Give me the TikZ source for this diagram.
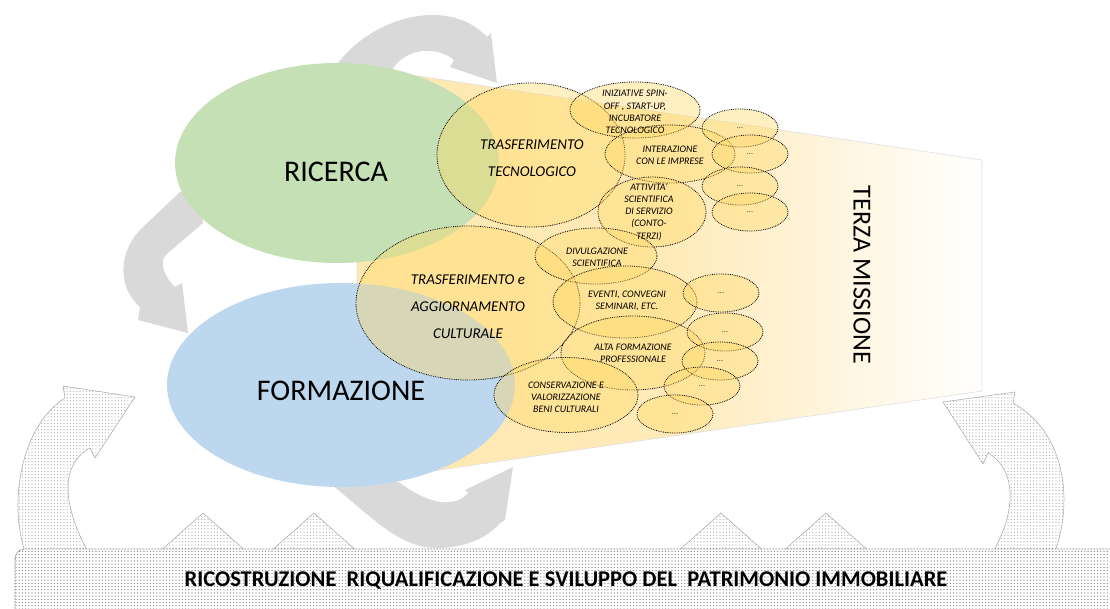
\documentclass[tikz,border=0pt]{standalone}
\usepackage{fontspec}
\setmainfont{Carlito}
\usetikzlibrary{shapes.geometric,patterns}
\definecolor{arrowgray}{HTML}{D9D9D9}
\definecolor{ricgreen}{HTML}{C5E0B4}
\definecolor{forblue}{HTML}{BDD7EE}
\definecolor{bubbleyellow}{HTML}{FFD966}
\definecolor{fadeyellow}{HTML}{FFE8B0}
% a coarser dot grid for the building blocks
\pgfdeclarepatternformonly{blockdots}{\pgfqpoint{-1pt}{-1pt}}{\pgfqpoint{1pt}{1pt}}{\pgfqpoint{3.2pt}{3.2pt}}%
   {\pgfpathcircle{\pgfqpoint{0pt}{0pt}}{0.65pt}\pgfusepath{fill}}
\tikzset{% styles for the two areas, the bubbles and their labels
   mainarea/.style={ellipse, inner sep=0pt},
   bubble/.style={ellipse, inner sep=0pt, draw=black, densely dotted, line width=0.8pt,
                  fill=bubbleyellow, fill opacity=0.4},
   dotbubble/.style={bubble, minimum width=76pt, minimum height=38pt},
   bigword/.style={inner sep=0pt, font=\fontsize{30}{36}\selectfont},
   biglabel/.style={inner sep=0pt, align=center, text=black, font=\fontsize{15}{27}\selectfont\itshape},
   smalllabel/.style={inner sep=0pt, align=center, text=black, font=\fontsize{10}{12.2}\selectfont\itshape},
   dotlabel/.style={inner sep=0pt, text=black!80, font=\fontsize{8}{9}\selectfont},
   % and the dotted grey fill of the building blocks
   dotfill/.style={preaction={fill=white}, pattern=blockdots, pattern color=black!30,
                   draw=gray!70, line width=0.5pt}
}

\begin{document}
\begin{tikzpicture}[x=1pt, y=-1pt]
   \useasboundingbox (0,0) rectangle (1110,609);
   % grey cycle arrows behind the two areas
   \fill[arrowgray] (360,110) -- (338,63) .. controls (375,15) and (450,-3) .. (487,37)
        -- (491,33) -- (497,83) -- (450,67) -- (454,60)
        .. controls (440,48) and (410,45) .. (393,68) -- cycle;
   \fill[arrowgray] (200,190) -- (180,192) -- (143,227) .. controls (120,248) and (115,285) .. (140,307)
        -- (138,320) -- (188,333) -- (182,283) -- (175,287)
        .. controls (160,272) and (160,258) .. (168,253) -- (203,223) -- cycle;
   \fill[arrowgray] (350,460) -- (332,485) .. controls (370,515) and (400,550) .. (440,548)
        .. controls (470,547) and (490,535) .. (500,523) -- (505,520) -- (513,467)
        -- (465,490) -- (468,493) .. controls (455,508) and (430,505) .. (400,483) -- cycle;
   % third mission band
   \shade[left color=fadeyellow, right color=white, middle color=fadeyellow!88!white,
          draw=gray!25, line width=0.6pt]
        (357,67) -- (982,160) -- (982,391) -- (357,482) -- cycle;
   \node[font=\fontsize{26}{30}\selectfont, rotate=-90] (terza) at (862,275) {TERZA MISSIONE};
   % research and education
   \node[mainarea, fill=ricgreen, minimum width=324pt, minimum height=200pt] (ricerca) at (337,163) {};
   \node[mainarea, fill=forblue, minimum width=348pt, minimum height=204pt] (formazione) at (341,385) {};
   \node[bigword] (ricercatxt) at (336,172) {RICERCA};
   \node[bigword] (formtxt) at (341,391) {FORMAZIONE};
   % building blocks and side arrows
   \foreach \px in {203,314,721,826} {
      \path[dotfill] (\px-45,553) -- (\px,513) -- (\px+45,553) -- cycle;
   }
   \path[dotfill] (25,552) .. controls (8,500) and (22,425) .. (65,398) -- (63,386) -- (135,397)
        -- (95,458) -- (90,448) .. controls (68,460) and (55,490) .. (88,552) -- cycle;
   \path[dotfill] (1055,552) .. controls (1075,495) and (1062,430) .. (1013,403) -- (1015,392) -- (943,402)
        -- (983,464) -- (988,453) .. controls (1010,465) and (1022,500) .. (993,552) -- cycle;
   \path[dotfill, pattern color=black!50, draw=black!80, densely dotted, line width=0.8pt,
         rounded corners=10pt] (15,549) rectangle (1140,640);
   \node[font=\fontsize{22.5}{26}\selectfont\bfseries] (bartxt) at (566,581)
        {RICOSTRUZIONE\ \ RIQUALIFICAZIONE E SVILUPPO DEL\ \ PATRIMONIO IMMOBILIARE};
   % bubbles of the third mission
   \node[bubble, minimum width=188pt, minimum height=144pt] (tt) at (531,155) {};
   \node[bubble, minimum width=130pt, minimum height=56pt] (spinoff) at (635,110) {};
   \node[bubble, minimum width=130pt, minimum height=58pt] (imprese) at (670,154) {};
   \node[bubble, minimum width=108pt, minimum height=70pt] (servizio) at (652,212) {};
   \node[bubble, minimum width=224pt, minimum height=154pt] (tac) at (468,303) {};
   \node[bubble, minimum width=122pt, minimum height=56pt] (divulg) at (596,256) {};
   \node[bubble, minimum width=144pt, minimum height=72pt] (eventi) at (625,302) {};
   \node[bubble, minimum width=144pt, minimum height=74pt] (altaform) at (633,353) {};
   \node[bubble, minimum width=144pt, minimum height=75pt] (beni) at (566,395) {};
   \foreach \bx/\by [count=\i] in {740/128, 750/154, 740/186, 750/212, 721/293,
                                   725/332, 720/361, 702/386, 675/414} {
      \node[dotbubble] (more\i) at (\bx,\by) {};
      \node[dotlabel] (moretxt\i) at (more\i) {...};
   }
   % labels
   \node[biglabel] (tttxt) at (532,158) {TRASFERIMENTO\\TECNOLOGICO};
   \node[biglabel] (tactxt) at (468,307) {TRASFERIMENTO e\\AGGIORNAMENTO\\CULTURALE};
   \node[smalllabel] (spinofftxt) at (635,112) {INIZIATIVE SPIN-\\OFF , START-UP,\\INCUBATORE\\TECNOLOGICO};
   \node[smalllabel] (impresetxt) at (670,155) {INTERAZIONE\\CON LE IMPRESE};
   \node[smalllabel] (serviziotxt) at (649,212) {ATTIVITA'\\SCIENTIFICA\\DI SERVIZIO\\(CONTO-\\TERZI)};
   \node[smalllabel] (divulgtxt) at (597,257) {DIVULGAZIONE\\SCIENTIFICA};
   \node[smalllabel] (eventitxt) at (627,301) {EVENTI, CONVEGNI\\SEMINARI, ETC.};
   \node[smalllabel] (altaformtxt) at (633,353) {ALTA FORMAZIONE\\PROFESSIONALE};
   \node[smalllabel] (benitxt) at (566,397) {CONSERVAZIONE E\\VALORIZZAZIONE\\BENI CULTURALI};
\end{tikzpicture}
\end{document}
